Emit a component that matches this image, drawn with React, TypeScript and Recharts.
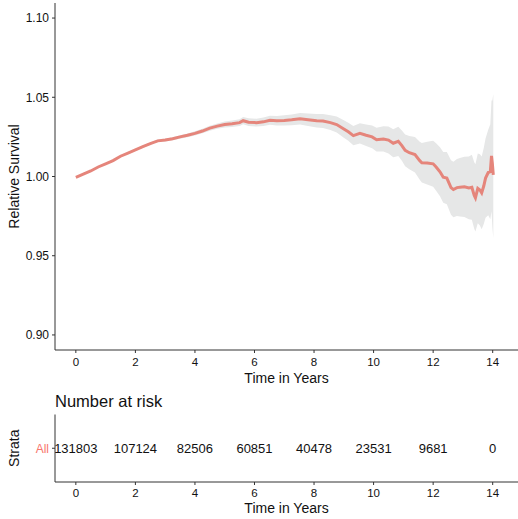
import React from "react";
import {
  ComposedChart,
  ScatterChart,
  Scatter,
  Area,
  Line,
  XAxis,
  YAxis,
} from "recharts";

// relative survival curve
const TIME = [
  0, 0.25, 0.5, 0.75, 1, 1.25, 1.5, 1.75, 2, 2.25, 2.5, 2.75, 3, 3.25, 3.5, 3.75, 4, 4.25, 4.5, 4.75,
  5, 5.25, 5.5, 5.62, 5.8, 6.07, 6.3, 6.52, 6.75, 7, 7.25, 7.53, 7.8, 8.09, 8.3, 8.55, 8.76, 9, 9.15,
  9.32, 9.54, 9.75, 9.95, 10.1, 10.33, 10.5, 10.66, 10.83, 10.95, 11.06, 11.2, 11.39, 11.55, 11.62,
  11.8, 12, 12.1, 12.23, 12.34, 12.46, 12.6, 12.68, 12.8, 12.9, 13.05, 13.2, 13.3, 13.38, 13.42, 13.5,
  13.57, 13.63, 13.7, 13.76, 13.85, 13.92, 13.96, 13.99, 14.02,
];
const SURVIVAL = [
  0.9995, 1.0015, 1.0035, 1.006, 1.008, 1.01, 1.0128, 1.0148, 1.0168, 1.0188, 1.0208, 1.0225, 1.023,
  1.0238, 1.025, 1.026, 1.0272, 1.0287, 1.0305, 1.0318, 1.0328, 1.0333, 1.034, 1.0352, 1.0343, 1.034,
  1.0345, 1.0355, 1.0352, 1.0354, 1.0358, 1.0364, 1.0358, 1.0352, 1.035, 1.034, 1.0328, 1.03, 1.0282,
  1.0258, 1.0272, 1.026, 1.025, 1.0232, 1.0237, 1.023, 1.021, 1.0222, 1.0195, 1.0165, 1.015, 1.0138,
  1.01, 1.0087, 1.0085, 1.008, 1.006, 1.003, 0.9995, 0.999, 0.993, 0.9918, 0.993, 0.9932, 0.9935,
  0.9928, 0.9932, 0.988, 0.9865, 0.9925, 0.9915, 0.9897, 0.994, 0.999, 1.0025, 1.003, 1.013, 1.008,
  1.001,
];
const LOWER = [
  0.9995, 1.0014, 1.0033, 1.0057, 1.0076, 1.0096, 1.0123, 1.0143, 1.0162, 1.0181, 1.0201, 1.0217,
  1.0221, 1.0228, 1.0239, 1.0248, 1.0259, 1.0273, 1.0289, 1.0301, 1.0309, 1.0313, 1.0318, 1.0329,
  1.0319, 1.0315, 1.0318, 1.0326, 1.0322, 1.0322, 1.0324, 1.0328, 1.0319, 1.031, 1.0306, 1.0293,
  1.0278, 1.0245, 1.0225, 1.0198, 1.0208, 1.0192, 1.0178, 1.0157, 1.0157, 1.0145, 1.0122, 1.013,
  1.01, 1.0065, 1.0045, 1.0026, 0.998, 0.9962, 0.995, 0.9935, 0.991, 0.9875, 0.9835, 0.9825, 0.9758,
  0.9743, 0.975, 0.9747, 0.9745, 0.973, 0.9727, 0.967, 0.9653, 0.9705, 0.969, 0.9667, 0.97, 0.974,
  0.9755, 0.973, 0.978, 0.968, 0.961,
];
const UPPER = [
  0.9995, 1.0016, 1.0037, 1.0063, 1.0084, 1.0104, 1.0133, 1.0153, 1.0174, 1.0195, 1.0215, 1.0233,
  1.0239, 1.0248, 1.0261, 1.0272, 1.0285, 1.0301, 1.0321, 1.0335, 1.0347, 1.0353, 1.0362, 1.0375,
  1.0367, 1.0365, 1.0372, 1.0384, 1.0382, 1.0386, 1.0392, 1.04, 1.0397, 1.0394, 1.0394, 1.0387,
  1.0378, 1.0355, 1.0339, 1.0318, 1.0336, 1.0328, 1.0322, 1.0307, 1.0317, 1.0315, 1.0298, 1.0314,
  1.029, 1.0265, 1.0255, 1.025, 1.022, 1.0212, 1.022, 1.0225, 1.021, 1.0185, 1.0155, 1.0155, 1.0102,
  1.0093, 1.011, 1.0117, 1.0125, 1.0126, 1.0137, 1.009, 1.0077, 1.0145, 1.014, 1.0127, 1.018, 1.024,
  1.0295, 1.033, 1.048, 1.048, 1.052,
];

const X_TICKS = [0, 2, 4, 6, 8, 10, 12, 14];
const Y_TICKS = [0.9, 0.95, 1.0, 1.05, 1.1];

// number at risk table
const RISK_TIMES = [0, 2, 4, 6, 8, 10, 12, 14];
const RISK_COUNTS = [131803, 107124, 82506, 60851, 40478, 23531, 9681, 0];
const STRATA = "All";

const LINE_COLOR = "#E5857B";
const BAND_COLOR = "#E6E7E7";
const STRATA_COLOR = "#F8766D";
const AXIS_COLOR = "#333333";
const TEXT_COLOR = "#111111";
const X_DOMAIN: [number, number] = [-0.7, 14.85];

const curve = TIME.map((t, i) => ({
  time: t,
  survival: SURVIVAL[i],
  band: [LOWER[i], UPPER[i]],
}));

const risk = RISK_TIMES.map((t, i) => ({ time: t, strata: STRATA, count: RISK_COUNTS[i] }));

const tickStyle = { fontSize: 11.5, fill: TEXT_COLOR };
const axisLine = { stroke: AXIS_COLOR, strokeWidth: 1 };
const tickLine = { stroke: AXIS_COLOR, strokeWidth: 1 };

function RiskLabel(props: any) {
  const { cx, cy, payload } = props;
  return (
    <text
      x={cx}
      y={cy}
      textAnchor="middle"
      dominantBaseline="central"
      fontSize={13}
      fill={TEXT_COLOR}
    >
      {payload.count}
    </text>
  );
}

export default function App() {
  return (
    <div
      style={{
        position: "absolute",
        left: 0,
        top: 0,
        width: 518,
        height: 519,
        background: "#fff",
        fontFamily: "'Liberation Sans', Arial, Helvetica, sans-serif",
      }}
    >
      <ComposedChart
        width={518}
        height={390}
        data={curve}
        margin={{ top: 3, right: 0, bottom: 0, left: 0 }}
      >
        <XAxis
          type="number"
          dataKey="time"
          domain={X_DOMAIN}
          ticks={X_TICKS}
          allowDataOverflow
          height={40}
          tickSize={3}
          tickMargin={5}
          tick={tickStyle}
          axisLine={axisLine}
          tickLine={tickLine}
          label={{
            value: "Time in Years",
            position: "insideBottom",
            offset: 7,
            style: { fontSize: 14, fill: TEXT_COLOR },
          }}
        />
        <YAxis
          type="number"
          domain={[0.8905, 1.1095]}
          ticks={Y_TICKS}
          allowDataOverflow
          width={55}
          tickSize={3}
          tickMargin={3}
          tick={{ fontSize: 12, fill: TEXT_COLOR }}
          axisLine={axisLine}
          tickLine={tickLine}
          tickFormatter={(v: number) => v.toFixed(2)}
          label={{
            value: "Relative Survival",
            angle: -90,
            position: "insideLeft",
            offset: 14,
            style: { textAnchor: "middle", fontSize: 14, fill: TEXT_COLOR },
          }}
        />
        <Area
          type="linear"
          dataKey="band"
          stroke="none"
          fill={BAND_COLOR}
          fillOpacity={1}
          isAnimationActive={false}
        />
        <Line
          type="linear"
          dataKey="survival"
          stroke={LINE_COLOR}
          strokeWidth={3}
          dot={false}
          isAnimationActive={false}
        />
      </ComposedChart>

      <div
        style={{
          position: "absolute",
          left: 55,
          top: 392,
          fontSize: 16.5,
          color: TEXT_COLOR,
          whiteSpace: "nowrap",
        }}
      >
        Number at risk
      </div>

      <div style={{ position: "absolute", left: 0, top: 390 }}>
        <ScatterChart
          width={518}
          height={129}
          margin={{ top: 24.5, right: 0, bottom: 0, left: 0 }}
        >
          <XAxis
            type="number"
            dataKey="time"
            domain={X_DOMAIN}
            ticks={X_TICKS}
            allowDataOverflow
            height={37}
            tickSize={3}
            tickMargin={4}
            tick={tickStyle}
            axisLine={axisLine}
            tickLine={tickLine}
            label={{
              value: "Time in Years",
              position: "insideBottom",
              offset: 6,
              style: { fontSize: 14, fill: TEXT_COLOR },
            }}
          />
          <YAxis
            type="category"
            dataKey="strata"
            allowDuplicatedCategory={false}
            width={55}
            tickSize={3}
            tickMargin={3}
            tick={{ fontSize: 12, fill: STRATA_COLOR }}
            axisLine={axisLine}
            tickLine={tickLine}
            label={{
              value: "Strata",
              angle: -90,
              position: "insideLeft",
              offset: 14,
              style: { textAnchor: "middle", fontSize: 14, fill: TEXT_COLOR },
            }}
          />
          <Scatter data={risk} shape={RiskLabel} isAnimationActive={false} />
        </ScatterChart>
      </div>
    </div>
  );
}
